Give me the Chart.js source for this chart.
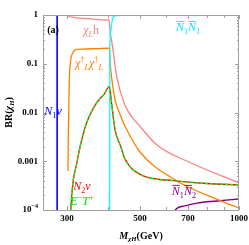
<!DOCTYPE html>
<html>
<head>
<meta charset="utf-8">
<script src="https://cdn.jsdelivr.net/npm/chart.js@4"></script>
<style>
html, body { margin: 0; padding: 0; background: #fff; }
canvas { display: block; }
</style>
</head>
<body>
<canvas id="brChart" width="249" height="245"></canvas>
<script>
// Branching ratios of chi_H (mass in GeV)

// N1 nu
const n1nuMass = [250, 280, 280];
const n1nuBR   = [1, 1, 1e-6];

// chi_L h
const chiHMass = [280, 301, 303, 306, 311, 330, 360, 400, 403, 405, 411, 425, 450, 475, 500, 563, 715, 1000];
const chiHBR   = [1, 1, 0.96, 0.92, 0.9, 0.86, 0.82, 0.79, 0.78, 0.5, 0.27, 0.054, 0.0142, 0.0078, 0.0052, 0.00216, 0.00092, 0.00036];

// chi_L^dagger chi_L^dagger
const chiChiMass = [302, 303, 305, 308, 312, 317, 325, 335, 370, 403, 405, 411, 420, 432, 450, 500, 648, 869, 1000];
const chiChiBR   = [6.3e-4, 0.005, 0.05, 0.12, 0.165, 0.19, 0.197, 0.2, 0.205, 0.21, 0.119, 0.046, 0.018, 0.0102, 0.00528, 0.00155, 3.94e-4, 1.6e-4, 1.1e-4];

// N2 nu and E- T+ lie on top of each other
const n2nuMass = [306, 308, 313.5, 320, 328.6, 344, 369, 390, 403, 411, 420, 437, 450, 502, 634, 800, 1000];
const n2nuBR   = [3e-5, 1e-4, 4.1e-4, 8e-4, 1.96e-3, 6.1e-3, 0.0157, 0.0244, 0.034, 0.0132, 0.00438, 0.002, 0.00112, 5.3e-4, 4.0e-4, 3.5e-4, 3.26e-4];
const etMass = n2nuMass;
const etBR   = n2nuBR;

// N1bar N1bar
const n1n1Mass = [404, 405, 407, 410, 413, 416, 425, 450, 1000];
const n1n1BR   = [1e-6, 0.2, 0.45, 0.65, 0.85, 0.93, 0.97, 0.99, 0.999];

// N1bar N2bar
const n1n2Mass = [625, 640, 680, 745, 857, 1000];
const n1n2BR   = [3e-5, 1e-4, 1.2e-4, 1.39e-4, 1.53e-4, 1.68e-4];

const xTickLabels = [300, 500, 700, 1000];
const xMinorTicks = [300, 400, 500, 600, 700, 800, 900, 1000];
const yTickLabels = [1, 0.1, 0.01, 0.001, 1e-4];

const plotFont = '"Liberation Serif", "DejaVu Serif", serif';

function pts(xs, ys) {
    return xs.map(function (x, i) { return { x: x, y: ys[i] }; });
}

function line(data, color, width, dash, straight) {
    return {
        data: data,
        borderColor: color,
        borderWidth: width,
        borderDash: dash || [],
        showLine: true,
        pointRadius: 0,
        fill: false,
        cubicInterpolationMode: straight ? 'default' : 'monotone',
        tension: straight ? 0 : 0.4
    };
}

// rich text: parts are {t, s:'sub'|'sup', i:italic, bar:overline}
function partFont(p, size, bold) {
    const sz = p.s ? size * 0.68 : size;
    return (p.i ? 'italic ' : '') + (bold ? 'bold ' : '') + sz + 'px ' + plotFont;
}

function drawRich(ctx, parts, x, y, size, color, bold, align) {
    let w = 0;
    parts.forEach(function (p) { ctx.font = partFont(p, size, bold); w += ctx.measureText(p.t).width; });
    let cx = align === 'right' ? x - w : (align === 'left' ? x : x - w / 2);
    ctx.fillStyle = color;
    ctx.strokeStyle = color;
    ctx.textBaseline = 'middle';
    ctx.textAlign = 'left';
    parts.forEach(function (p) {
        ctx.font = partFont(p, size, bold);
        const pw = ctx.measureText(p.t).width;
        let dy = 0;
        if (p.s === 'sub') dy = size * 0.32;
        if (p.s === 'sup') dy = -size * 0.38;
        ctx.fillText(p.t, cx, y + dy);
        if (p.bar) {
            ctx.lineWidth = 0.9;
            ctx.beginPath();
            ctx.moveTo(cx + 0.5, y - size * 0.55);
            ctx.lineTo(cx + pw, y - size * 0.55);
            ctx.stroke();
        }
        cx += pw;
    });
}

// labels on the curves, placed in data coordinates
const curveLabels = [
    { m: 272, br: 0.49, size: 10, color: '#000', bold: true, parts: [{ t: '(a)' }] },
    { m: 355, br: 0.47, size: 12, color: '#ff8080', parts: [{ t: 'χ', i: true }, { t: 'L', s: 'sub', i: true }, { t: 'h' }] },
    { m: 350, br: 0.099, size: 12, color: '#ff8000', parts: [{ t: 'χ', i: true }, { t: '†', s: 'sup' }, { t: 'L', s: 'sub', i: true }, { t: 'χ', i: true }, { t: '†', s: 'sup' }, { t: 'L', s: 'sub', i: true }] },
    { m: 272, br: 0.0102, size: 12, color: '#0000ff', parts: [{ t: 'N', i: true }, { t: '1', s: 'sub' }, { t: 'ν', i: true }] },
    { m: 700, br: 0.54, size: 12, color: '#00e5ff', parts: [{ t: 'N', i: true, bar: true }, { t: '1', s: 'sub' }, { t: 'N', i: true, bar: true }, { t: '1', s: 'sub' }] },
    { m: 333, br: 2.96e-4, size: 12, color: '#ff0000', parts: [{ t: 'N', i: true }, { t: '2', s: 'sub' }, { t: 'ν', i: true }] },
    { m: 333, br: 1.46e-4, size: 12, color: '#00e000', parts: [{ t: 'E', i: true }, { t: '−', s: 'sup' }, { t: 'T', i: true }, { t: '+', s: 'sup' }] },
    { m: 680, br: 2.34e-4, size: 12, color: '#800080', parts: [{ t: 'N', i: true, bar: true }, { t: '1', s: 'sub' }, { t: 'N', i: true, bar: true }, { t: '2', s: 'sub' }] }
];

const framePlugin = {
    id: 'frame',
    afterDraw: function (chart) {
        const ctx = chart.ctx;
        const a = chart.chartArea;
        const xs = chart.scales.x, ys = chart.scales.y;
        ctx.save();

        // frame
        ctx.strokeStyle = '#a0a0a0';
        ctx.lineWidth = 1;
        ctx.strokeRect(a.left + 0.5, a.top + 0.5, a.right - a.left - 1, a.bottom - a.top);

        // x ticks, top and bottom, pointing in
        ctx.beginPath();
        xMinorTicks.forEach(function (v) {
            const px = Math.round(xs.getPixelForValue(v)) + 0.5;
            const len = xTickLabels.indexOf(v) >= 0 ? 4 : 3;
            ctx.moveTo(px, a.bottom); ctx.lineTo(px, a.bottom - len);
            ctx.moveTo(px, a.top); ctx.lineTo(px, a.top + len);
        });
        // y ticks, left and right
        for (let e = -4; e <= 0; e++) {
            for (let k = 1; k <= 9; k++) {
                const v = k * Math.pow(10, e);
                if (v > 1) break;
                const py = Math.round(ys.getPixelForValue(v)) + 0.5;
                const len = k === 1 ? 4 : 2;
                ctx.moveTo(a.left, py); ctx.lineTo(a.left + len, py);
                ctx.moveTo(a.right, py); ctx.lineTo(a.right - len, py);
            }
        }
        ctx.stroke();

        // tick labels
        xTickLabels.forEach(function (v) {
            drawRich(ctx, [{ t: String(v) }], xs.getPixelForValue(v), a.bottom + 9, 9, '#000', true, 'center');
        });
        yTickLabels.forEach(function (v) {
            const py = ys.getPixelForValue(v);
            let parts;
            if (v < 0.001) parts = [{ t: '10' }, { t: '−4', s: 'sup' }];
            else parts = [{ t: String(v) }];
            drawRich(ctx, parts, a.left - 5, py, 9, '#000', true, 'right');
        });

        // axis titles
        drawRich(ctx, [{ t: 'M', i: true }, { t: 'χH', s: 'sub', i: true }, { t: '(GeV)' }],
            (a.left + a.right) / 2, a.bottom + 26, 10, '#000', true, 'center');
        ctx.save();
        ctx.translate(9, (a.top + a.bottom) / 2);
        ctx.rotate(-Math.PI / 2);
        drawRich(ctx, [{ t: 'BR(' }, { t: 'χ', i: true }, { t: 'H', s: 'sub', i: true }, { t: ')' }], 0, 0, 10, '#000', true, 'center');
        ctx.restore();

        // curve labels
        curveLabels.forEach(function (l) {
            drawRich(ctx, l.parts, xs.getPixelForValue(l.m), ys.getPixelForValue(l.br), l.size, l.color, !!l.bold, 'center');
        });

        ctx.restore();
    }
};

document.addEventListener('DOMContentLoaded', function () {
    const ctx = document.getElementById('brChart').getContext('2d');
    new Chart(ctx, {
        type: 'scatter',
        data: {
            datasets: [
                line(pts(etMass, etBR), '#00ff00', 1.3, [3, 2]),
                line(pts(n2nuMass, n2nuBR), '#ff0000', 1.3),
                line(pts(n1nuMass, n1nuBR), '#0000ff', 1.6, null, true),
                line(pts(n1n1Mass, n1n1BR), '#00ffff', 1.3),
                line(pts(chiChiMass, chiChiBR), '#ff8000', 1.3),
                line(pts(chiHMass, chiHBR), '#ff8080', 1.3),
                line(pts(n1n2Mass, n1n2BR), '#800080', 1.3)
            ]
        },
        options: {
            responsive: false,
            devicePixelRatio: 1,
            animation: false,
            layout: { padding: { left: 43, right: 10, top: 15, bottom: 35 } },
            plugins: { legend: { display: false }, tooltip: { enabled: false } },
            scales: {
                x: { type: 'logarithmic', min: 253.6, max: 1000, display: false },
                y: { type: 'logarithmic', min: 1e-4, max: 1, display: false }
            }
        },
        plugins: [framePlugin]
    });
});
</script>
</body>
</html>
